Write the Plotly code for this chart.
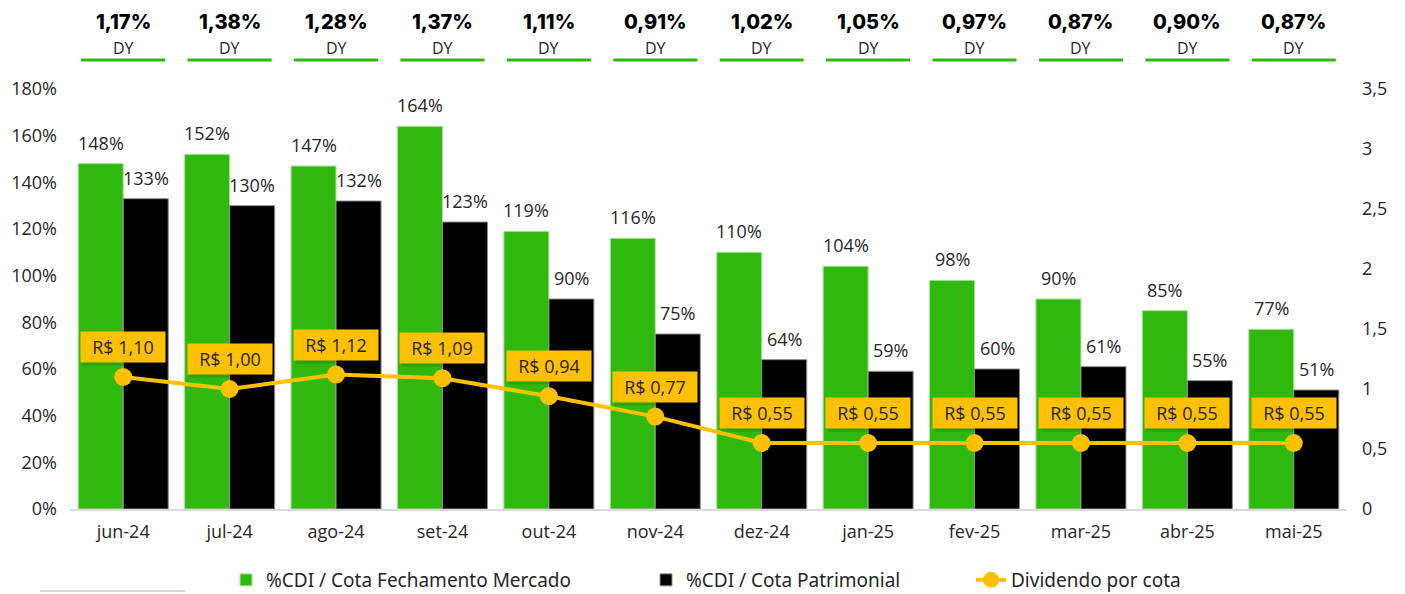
import plotly.graph_objects as go

categories = ["jun-24", "jul-24", "ago-24", "set-24", "out-24", "nov-24",
              "dez-24", "jan-25", "fev-25", "mar-25", "abr-25", "mai-25"]
cdi_mercado = [148, 152, 147, 164, 119, 116, 110, 104, 98, 90, 85, 77]
cdi_patrimonial = [133, 130, 132, 123, 90, 75, 64, 59, 60, 61, 55, 51]
dividendo = [1.10, 1.00, 1.12, 1.09, 0.94, 0.77, 0.55, 0.55, 0.55, 0.55, 0.55, 0.55]
dy_labels = ["1,17%", "1,38%", "1,28%", "1,37%", "1,11%", "0,91%",
             "1,02%", "1,05%", "0,97%", "0,87%", "0,90%", "0,87%"]
left_ticks = [0, 20, 40, 60, 80, 100, 120, 140, 160, 180]
left_ticktext = ["0%", "20%", "40%", "60%", "80%", "100%", "120%", "140%", "160%", "180%"]
right_ticks = [0, 0.5, 1, 1.5, 2, 2.5, 3, 3.5]
right_ticktext = ["0", "0,5", "1", "1,5", "2", "2,5", "3", "3,5"]

GREEN = "#2FB90E"
YELLOW = "#FFC000"
TXT = "#262626"
FONT = "Open Sans"

# page pixel geometry (the page body adds an 8px offset)
OFF = 8
PL, PR, PT, PB = 70, 1347, 89, 509
W, H = 1405 - OFF, 594 - OFF


def py(pix):
    return (PB - pix) / (PB - PT)


def px(pix):
    return (pix - PL) / (PR - PL)


fig = go.Figure()
fig.add_trace(go.Bar(x=categories, y=cdi_mercado, name="%CDI / Cota Fechamento Mercado",
                     marker=dict(color=GREEN, line=dict(color="#A9E39A", width=1)),
                     legend="legend"))
fig.add_trace(go.Bar(x=categories, y=cdi_patrimonial, name="%CDI / Cota Patrimonial",
                     marker=dict(color="#000000", line=dict(color="#8C8C8C", width=1)),
                     legend="legend2"))
fig.add_trace(go.Scatter(x=categories, y=dividendo, name="Dividendo por cota", yaxis="y2",
                         mode="lines+markers", line=dict(color=YELLOW, width=4),
                         marker=dict(color=YELLOW, size=18), legend="legend3"))

ann = []
for i, c in enumerate(categories):
    ann.append(dict(x=c, y=cdi_mercado[i], xref="x", yref="y", text=f"{cdi_mercado[i]}%",
                    showarrow=False, xshift=-22.5, yshift=21, yanchor="middle",
                    font=dict(family=FONT, size=18, color=TXT)))
    ann.append(dict(x=c, y=cdi_patrimonial[i], xref="x", yref="y", text=f"{cdi_patrimonial[i]}%",
                    showarrow=False, xshift=22.5, yshift=21, yanchor="middle",
                    font=dict(family=FONT, size=18, color=TXT)))
    lbl = "R$ " + f"{dividendo[i]:.2f}".replace(".", ",")
    ann.append(dict(x=c, y=dividendo[i], xref="x", yref="y2", text="",
                    showarrow=False, xshift=2, yshift=27, yanchor="middle",
                    width=84, height=30, borderpad=0, bgcolor="rgba(0,0,0,0.13)"))
    ann.append(dict(x=c, y=dividendo[i], xref="x", yref="y2", text=lbl,
                    showarrow=False, yshift=30, yanchor="middle",
                    width=84, height=30, borderpad=0, bgcolor=YELLOW,
                    font=dict(family=FONT, size=18, color=TXT)))
    ann.append(dict(x=c, y=py(22), xref="x", yref="paper", text=dy_labels[i],
                    showarrow=False, yanchor="middle",
                    font=dict(family="Inter", size=20, color="#000000", weight=800)))
    ann.append(dict(x=c, y=py(48), xref="x", yref="paper", text="DY",
                    showarrow=False, yanchor="middle",
                    font=dict(family=FONT, size=16, color=TXT)))

shapes = []
for i, c in enumerate(categories):
    shapes.append(dict(type="line", xref="x", yref="paper", x0=i - 0.395, x1=i + 0.395,
                       y0=py(60), y1=py(60), line=dict(color=GREEN, width=3)))
shapes.append(dict(type="line", xref="paper", yref="paper", x0=px(40), x1=px(185),
                   y0=py(591), y1=py(591), line=dict(color="#B0B0A0", width=1)))

leg_common = dict(orientation="h", yanchor="middle", y=py(580), xanchor="left",
                  font=dict(family="Noto Sans", size=19, color=TXT), bgcolor="rgba(0,0,0,0)")

fig.update_layout(
    width=W, height=H,
    margin=dict(l=PL - OFF, r=W - (PR - OFF), t=PT - OFF, b=H - (PB - OFF), autoexpand=False),
    paper_bgcolor="white", plot_bgcolor="white",
    separators=",.",
    barmode="group", bargap=0.154, bargroupgap=0,
    showlegend=True,
    legend=dict(**leg_common, x=px(226)),
    legend2=dict(**leg_common, x=px(646)),
    legend3=dict(**leg_common, x=px(971)),
    xaxis=dict(range=[-0.5, len(categories) - 0.5], autorange=False,
               showgrid=False, showline=True, linecolor="#D9D9D9", linewidth=1.5,
               ticks="", tickfont=dict(family=FONT, size=18, color=TXT), ticklabelstandoff=6,
               automargin=False),
    yaxis=dict(range=[0, 180], autorange=False, tickvals=left_ticks, ticktext=left_ticktext,
               showgrid=False, zeroline=False, showline=False,
               tickfont=dict(family=FONT, size=18, color=TXT),
               ticklabelstandoff=12, automargin=False),
    yaxis2=dict(range=[0, 3.5], autorange=False, tickvals=right_ticks, ticktext=right_ticktext,
                overlaying="y", side="right", showgrid=False, zeroline=False, showline=False,
                tickfont=dict(family=FONT, size=18, color=TXT), ticklabelstandoff=14,
                automargin=False),
    annotations=ann, shapes=shapes,
)

fig.write_html("out.html")
